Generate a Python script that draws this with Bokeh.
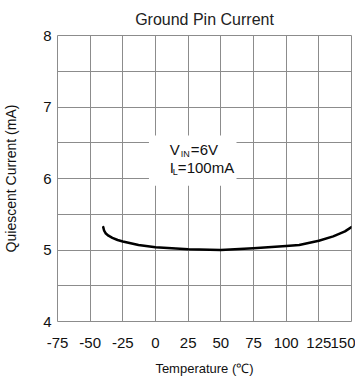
from bokeh.plotting import figure
from bokeh.models import FixedTicker, Label, BoxAnnotation, Range1d
from bokeh.embed import file_html
from bokeh.resources import INLINE

temps = [-40, -39.3, -38, -36, -33, -29, -25, -13, 0, 25, 50, 75, 100, 110, 125, 136, 145, 150]
current = [5.32, 5.27, 5.23, 5.20, 5.17, 5.14, 5.12, 5.07, 5.04, 5.01, 5.00, 5.025, 5.055,
           5.07, 5.13, 5.19, 5.26, 5.32]
x_ticks = [-75, -50, -25, 0, 25, 50, 75, 100, 125, 150]
x_tick_labels = ["-75", "-50", "-25", "0", "25", "50", "75", "100", "125", "150"]
y_ticks = [4, 5, 6, 7, 8]
y_grid = [4, 4.5, 5, 5.5, 6, 6.5, 7, 7.5, 8]

FONT = "Liberation Sans"

p = figure(frame_width=294, frame_height=286, output_backend="svg", toolbar_location=None,
           x_range=Range1d(-75, 150), y_range=Range1d(4, 8),
           min_border_left=50, min_border_right=4, min_border_top=28, min_border_bottom=48,
           title="Ground Pin Current")
p.title.align = "center"
p.title.text_font = FONT
p.title.text_font_size = "16px"
p.title.text_font_style = "normal"
p.title.text_color = "#222222"
p.title.standoff = 16

p.xaxis.ticker = FixedTicker(ticks=x_ticks)
p.xaxis.major_label_overrides = {t: s for t, s in zip(x_ticks, x_tick_labels)}
p.yaxis.ticker = FixedTicker(ticks=y_ticks)
p.xgrid.ticker = FixedTicker(ticks=x_ticks)
p.ygrid.ticker = FixedTicker(ticks=y_grid)
for g in (p.xgrid, p.ygrid):
    g.grid_line_color = "#8c8c8c"
    g.grid_line_alpha = 1.0
    g.grid_line_width = 1

for ax in (p.xaxis, p.yaxis):
    ax.axis_line_color = None
    ax.major_tick_line_color = None
    ax.minor_tick_line_color = None
    ax.major_label_text_font = FONT
    ax.major_label_text_font_size = "15px"
    ax.major_label_text_color = "#111111"
    ax.axis_label_text_font = FONT
    ax.axis_label_text_font_style = "normal"
    ax.axis_label_text_color = "#111111"

p.xaxis.axis_label = "Temperature (℃)"
p.yaxis.axis_label = "Quiescent Current (mA)"
p.xaxis.axis_label_text_font_size = "13px"
p.yaxis.axis_label_text_font_size = "14px"
p.xaxis.major_label_standoff = 10
p.xaxis.axis_label_standoff = 10
p.yaxis.major_label_standoff = 0
p.yaxis.axis_label_standoff = 21

p.outline_line_color = "#8c8c8c"
p.outline_line_width = 1

p.line(temps, current, line_color="black", line_width=2.5, line_join="round", line_cap="round")

# annotation box
box_left, box_right, box_bottom, box_top = -5, 62, 5.9, 6.6
p.add_layout(BoxAnnotation(left=box_left, right=box_right, bottom=box_bottom, top=box_top,
                           fill_color="white", fill_alpha=1.0, line_color=None, level="overlay"))

line1_x, line2_x = 11, 11
line1_y, line2_y = 6.28, 6.03
p.add_layout(Label(x=line1_x, y=line1_y, text="V", text_font=FONT, text_font_size="15px",
                   text_color="#111111", level="overlay"))
p.add_layout(Label(x=line1_x, y=line1_y, x_offset=11, y_offset=-1, text="IN", text_font=FONT,
                   text_font_size="9px", text_color="#111111", level="overlay"))
p.add_layout(Label(x=line1_x, y=line1_y, x_offset=21, text="=6V", text_font=FONT,
                   text_font_size="15px", text_color="#111111", level="overlay"))
p.add_layout(Label(x=line2_x, y=line2_y, text="I", text_font=FONT, text_font_size="15px",
                   text_color="#111111", level="overlay"))
p.add_layout(Label(x=line2_x, y=line2_y, x_offset=3, y_offset=-1, text="L", text_font=FONT,
                   text_font_size="9px", text_color="#111111", level="overlay"))
p.add_layout(Label(x=line2_x, y=line2_y, x_offset=8, text="=100mA", text_font=FONT,
                   text_font_size="15px", text_color="#111111", level="overlay"))

open("out.html", "w").write(file_html(p, INLINE))
